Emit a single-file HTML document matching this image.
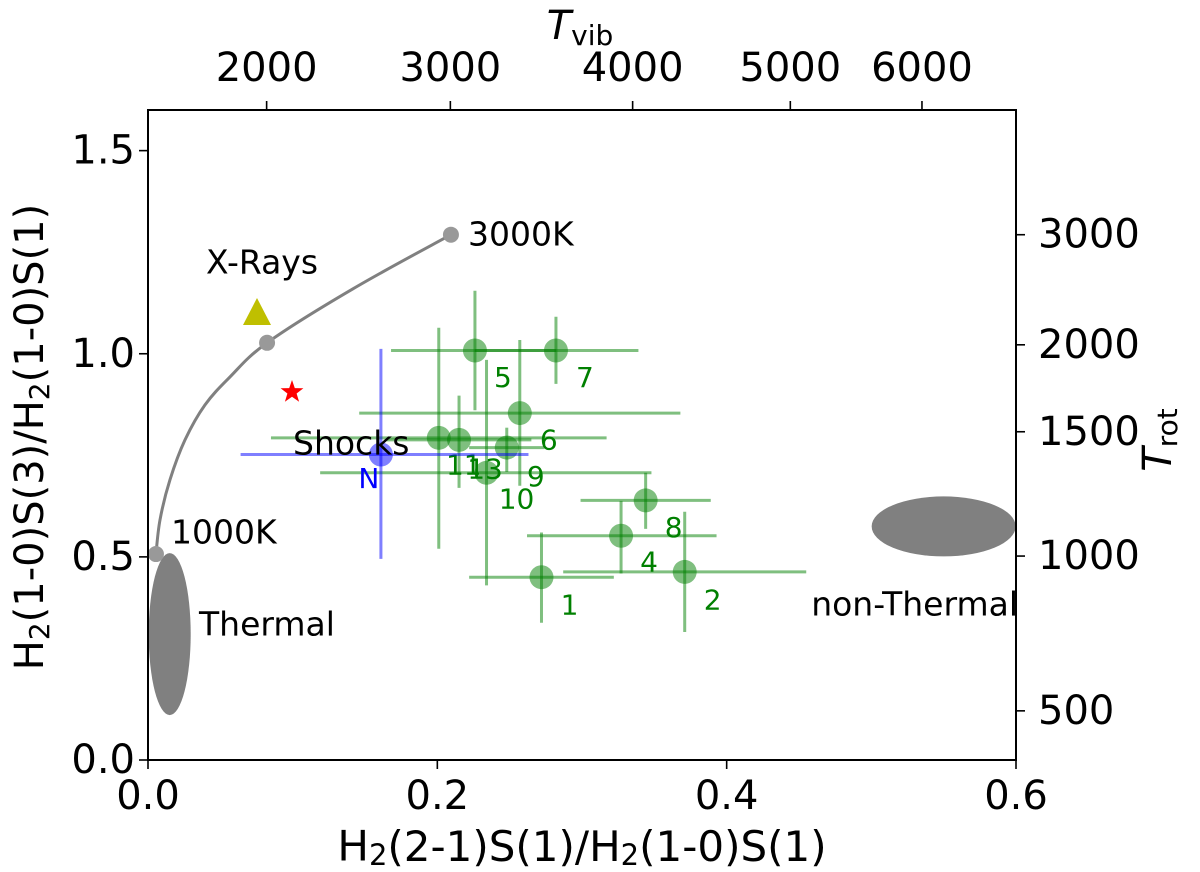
<!DOCTYPE html>
<html><head><meta charset="utf-8"><style>
html,body{margin:0;padding:0;background:#fff;}
svg{display:block;font-family:"DejaVu Sans","Liberation Sans",sans-serif;}
</style></head><body>
<svg id="chart" width="1200" height="872" viewBox="0 0 1200 872" xmlns="http://www.w3.org/2000/svg">
<g id="layer-back"></g>
<g id="layer-data"></g>
<g id="layer-axes"></g>
</svg>
<script>
const labels = ["5","7","6","11","13","9","10","8","4","1","2"];
const xs   = [0.226,0.282,0.257,0.201,0.215,0.248,0.234,0.344,0.327,0.272,0.371];
const ys   = [1.008,1.008,0.854,0.793,0.788,0.769,0.707,0.639,0.552,0.450,0.463];
const xlo  = [0.168,0.226,0.146,0.085,0.165,0.222,0.119,0.299,0.262,0.222,0.287];
const xhi  = [0.282,0.339,0.368,0.317,0.265,0.274,0.348,0.389,0.393,0.322,0.455];
const ylo  = [0.861,0.926,0.675,0.520,0.670,0.709,0.430,0.569,0.459,0.338,0.315];
const yhi  = [1.155,1.091,1.034,1.064,0.897,0.818,0.985,0.707,0.638,0.560,0.611];
const nX = [0.161], nY = [0.752], nXlo = [0.064], nXhi = [0.263], nYlo = [0.495], nYhi = [1.012];
const xTicks = [0.0,0.2,0.4,0.6];
const yTicks = [0.0,0.5,1.0,1.5];
const topTickLabels = ["2000","3000","4000","5000","6000"];
const topTickX = [0.082,0.209,0.335,0.444,0.535];
const rotTickLabels = ["3000","2000","1500","1000","500"];
const rotTickY = [1.293,1.022,0.808,0.502,0.121];
const curveX = [0.0055,0.0083,0.0152,0.0256,0.0394,0.0567,0.0823,0.1417,0.2094];
const curveY = [0.507,0.591,0.690,0.788,0.874,0.943,1.027,1.160,1.293];
const tempDotsX = [0.0055,0.0823,0.2094];
const tempDotsY = [0.507,1.027,1.293];

const L=148,R=1016,T=110,B=760;
const sx=v=>L+(v-0)/0.6*(R-L);
const sy=v=>B-(v-0)/1.6*(B-T);
const NS="http://www.w3.org/2000/svg";
function mk(tag,attrs,parent,text){const e=document.createElementNS(NS,tag);for(const k in attrs)e.setAttribute(k,attrs[k]);if(text!==undefined)e.textContent=text;parent.appendChild(e);return e;}
const back=document.getElementById('layer-back'),data=document.getElementById('layer-data'),ax=document.getElementById('layer-axes');

let e=mk('ellipse',{cx:sx(0.015),cy:sy(0.31),rx:21,ry:81,fill:'#808080'},back);


e=mk('ellipse',{cx:sx(0.55),cy:sy(0.575),rx:72,ry:30,fill:'#808080'},back);


const pts=curveX.map((v,i)=>[sx(v),sy(curveY[i])]);
let d='M'+pts[0][0].toFixed(1)+','+pts[0][1].toFixed(1);
for(let i=0;i<pts.length-1;i++){const p0=pts[Math.max(i-1,0)],p1=pts[i],p2=pts[i+1],p3=pts[Math.min(i+2,pts.length-1)];
 const c1=[p1[0]+(p2[0]-p0[0])/6,p1[1]+(p2[1]-p0[1])/6],c2=[p2[0]-(p3[0]-p1[0])/6,p2[1]-(p3[1]-p1[1])/6];
 d+=' C'+c1.map(n=>n.toFixed(1)).join(',')+' '+c2.map(n=>n.toFixed(1)).join(',')+' '+p2.map(n=>n.toFixed(1)).join(',');}
e=mk('path',{d:d,fill:'none',stroke:'#808080','stroke-width':3,'stroke-linejoin':'round'},back);


tempDotsX.forEach((v,i)=>{const c=mk('circle',{cx:sx(v),cy:sy(tempDotsY[i]),r:8,fill:'#999'},back);

});

function txt(x,y,s,size,fill,name,anchor){const t=mk('text',{x:x,y:y,'font-size':size,fill:fill,'text-anchor':anchor||'start','dominant-baseline':'central'},ax,s);

return t;}
txt(171,532,'1000K',33,'#000','label-1000k');
txt(468,234,'3000K',33,'#000','label-3000k');
txt(206,262,'X-Rays',33,'#000','label-x-rays');
txt(199,624,'Thermal',33,'#000','label-thermal');
txt(1018,604,'non-Thermal',33,'#000','label-non-thermal','end');

e=mk('polygon',{points:'257,298 271,325 243,325',fill:'#bfbf00'},data);


function star(cx,cy,r){let p=[];for(let i=0;i<10;i++){const a=-Math.PI/2+i*Math.PI/5,rr=i%2?r*0.4:r;p.push((cx+rr*Math.cos(a)).toFixed(1)+','+(cy+rr*Math.sin(a)).toFixed(1));}return p.join(' ');}
e=mk('polygon',{points:star(292,392,12),fill:'#ff0000'},data);



const lblOff={"5":[28,27],"7":[29,27],"6":[29,27],"11":[25,27],"13":[26,29],"9":[29,29],"10":[30,26],"8":[28,27],"4":[28,26],"1":[28,28],"2":[28,28]};
labels.forEach((lab,i)=>{
 const g=mk('g',{},data);
 
 
 mk('line',{x1:sx(xlo[i]),x2:sx(xhi[i]),y1:sy(ys[i]),y2:sy(ys[i]),stroke:'rgba(0,128,0,0.5)','stroke-width':3},g);
 mk('line',{x1:sx(xs[i]),x2:sx(xs[i]),y1:sy(ylo[i]),y2:sy(yhi[i]),stroke:'rgba(0,128,0,0.5)','stroke-width':3},g);
 mk('circle',{cx:sx(xs[i]),cy:sy(ys[i]),r:12,fill:'rgba(0,128,0,0.5)'},g);
 const o=lblOff[lab];
 const t=mk('text',{x:sx(xs[i])+o[0],y:sy(ys[i])+o[1],'font-size':28,fill:'#008000','text-anchor':'middle','dominant-baseline':'central'},g,lab);
 
 
});
const gn=mk('g',{},data);


mk('line',{x1:sx(nXlo[0]),x2:sx(nXhi[0]),y1:sy(nY[0]),y2:sy(nY[0]),stroke:'rgba(0,0,255,0.5)','stroke-width':3},gn);
mk('line',{x1:sx(nX[0]),x2:sx(nX[0]),y1:sy(nYlo[0]),y2:sy(nYhi[0]),stroke:'rgba(0,0,255,0.5)','stroke-width':3},gn);
mk('circle',{cx:sx(nX[0]),cy:sy(nY[0]),r:12,fill:'rgba(0,0,255,0.5)'},gn);
e=mk('text',{x:sx(nX[0])-12,y:sy(nY[0])+24,'font-size':28,fill:'#0000ff','text-anchor':'middle','dominant-baseline':'central'},gn,'N');


txt(293,443,'Shocks',33,'#000','label-shocks');

e=mk('rect',{x:L,y:T,width:R-L,height:B-T,fill:'none',stroke:'#000','stroke-width':2},ax);


xTicks.forEach(v=>{mk('line',{x1:sx(v),x2:sx(v),y1:B,y2:B+9,stroke:'#000','stroke-width':1.6},ax);
 txt(sx(v),796,v.toFixed(1),40,'#000','x-tick-label','middle');});
yTicks.forEach(v=>{mk('line',{x1:L-9,x2:L,y1:sy(v),y2:sy(v),stroke:'#000','stroke-width':1.6},ax);
 txt(L-13,sy(v),v.toFixed(1),40,'#000','y-tick-label','end');});
topTickX.forEach((v,i)=>{mk('line',{x1:sx(v),x2:sx(v),y1:T,y2:T-9,stroke:'#000','stroke-width':1.6},ax);
 txt(sx(v),68,topTickLabels[i],40,'#000','top-tick-label','middle');});
rotTickY.forEach((v,i)=>{mk('line',{x1:R,x2:R+9,y1:sy(v),y2:sy(v),stroke:'#000','stroke-width':1.6},ax);
 txt(R+22,sy(v),rotTickLabels[i],40,'#000','right-tick-label','start');});

let t=mk('text',{x:582,y:846,'font-size':42,'text-anchor':'middle','dominant-baseline':'central'},ax);


t.innerHTML='H<tspan font-size="29" dy="9">2</tspan><tspan dy="-9">(2-1)S(1)/H</tspan><tspan font-size="29" dy="9">2</tspan><tspan dy="-9">(1-0)S(1)</tspan>';
t=mk('text',{x:0,y:0,'font-size':40,'text-anchor':'middle','dominant-baseline':'central',transform:'translate(30,437) rotate(-90)'},ax);


t.innerHTML='H<tspan font-size="28" dy="9">2</tspan><tspan dy="-9">(1-0)S(3)/H</tspan><tspan font-size="28" dy="9">2</tspan><tspan dy="-9">(1-0)S(1)</tspan>';
t=mk('text',{x:580,y:26,'font-size':40,'text-anchor':'middle','dominant-baseline':'central'},ax);


t.innerHTML='<tspan font-style="italic">T</tspan><tspan font-size="28" dy="9">vib</tspan>';
t=mk('text',{x:0,y:0,'font-size':40,'text-anchor':'middle','dominant-baseline':'central',transform:'translate(1158,440) rotate(-90)'},ax);


t.innerHTML='<tspan font-style="italic">T</tspan><tspan font-size="28" dy="9">rot</tspan>';
</script>
</body></html>
